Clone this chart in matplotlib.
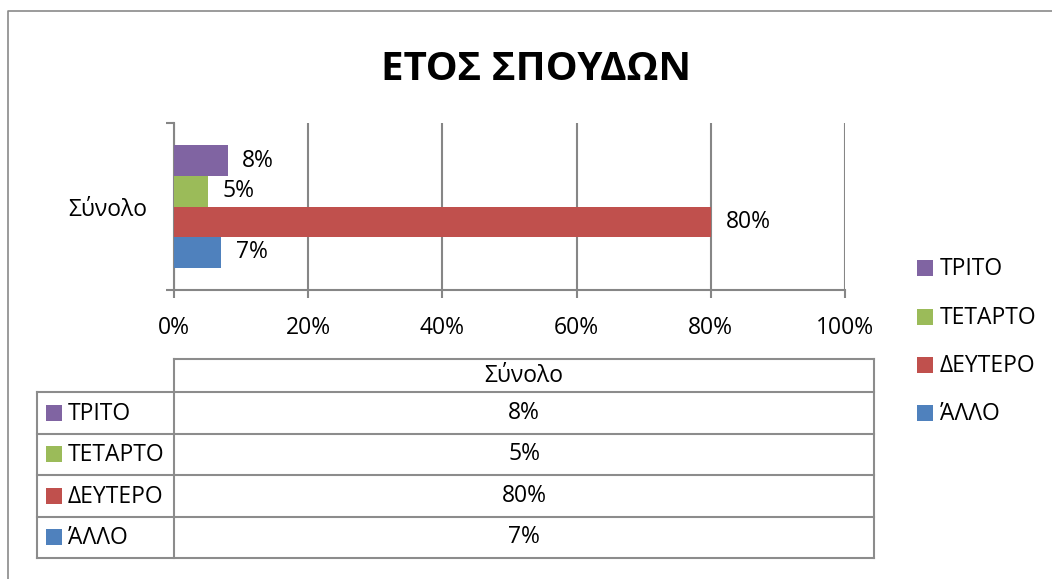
import matplotlib
matplotlib.use("Agg")
import matplotlib.pyplot as plt
from matplotlib.patches import Rectangle

plt.rcParams['font.family'] = ['Open Sans', 'DejaVu Sans']

title = "ΕΤΟΣ ΣΠΟΥΔΩΝ"
category = "Σύνολο"
series_names = ["ΆΛΛΟ", "ΔΕΥΤΕΡΟ", "ΤΕΤΑΡΤΟ", "ΤΡΙΤΟ"]
series_values = [7, 80, 5, 8]
series_colors = ["#4F81BD", "#C0504D", "#9BBB59", "#8064A2"]
x_ticks = [0, 20, 40, 60, 80, 100]
x_tick_labels = ["0%", "20%", "40%", "60%", "80%", "100%"]

W, H = 1052, 579
GRAY = "#868686"
FS = 16.5

fig = plt.figure(figsize=(W / 100, H / 100), dpi=100)


def fx(px):
    return px / W


def fy(py):
    return 1 - py / H


# overlay for frame, table and legend (pixel coordinates)
ov = fig.add_axes([0, 0, 1, 1])
ov.set_xlim(0, W)
ov.set_ylim(H, 0)
ov.axis("off")

# chart frame
ov.plot([8, 8, W + 5], [H + 5, 11, 11], color="#8a8a8a", lw=1.2, solid_capstyle="butt")

# main bar axes
ax = fig.add_axes([fx(174), fy(290), fx(845) - fx(174), fy(123) - fy(290)])
n = len(series_values)
bar_h = 0.1833
for i, (name, val, col) in enumerate(zip(series_names, series_values, series_colors)):
    off = (i - (n - 1) / 2) * bar_h
    ax.barh(off, val, height=bar_h, color=col, zorder=3)
    ax.annotate(f"{val}%", xy=(val, off), xytext=(10.5, 0), textcoords="offset points",
                ha="left", va="center", fontsize=FS, color="black")

ax.set_xlim(0, 100)
ax.set_ylim(-0.5, 0.5)
ax.set_xticks(x_ticks)
ax.set_xticklabels(x_tick_labels, fontsize=FS)
ax.set_yticks([-0.5, 0.5])
ax.set_yticklabels([])
ax.set_yticks([0], minor=True)
ax.set_yticklabels([category], minor=True, fontsize=FS)
ax.tick_params(axis="y", which="minor", length=0, pad=19)
ax.tick_params(axis="y", which="major", length=5.5, width=1.5, color=GRAY)
ax.tick_params(axis="x", length=5.5, width=1.5, color=GRAY, pad=13.5)
for s in ["top", "right"]:
    ax.spines[s].set_visible(False)
for s in ["left", "bottom"]:
    ax.spines[s].set_color(GRAY)
    ax.spines[s].set_linewidth(1.5)
ax.grid(axis="x", color=GRAY, lw=1.5, zorder=0)
ax.set_axisbelow(True)
ax.patch.set_alpha(0)

# title
fig.text(fx(536.5), fy(80), title, ha="center", va="baseline", fontsize=29, fontweight="bold")

# data table
TC = "#8c8c8c"
tlw = 1.5
x_left, x_mid, x_right = 37, 174, 874
y_head_top, y_head_bot = 359, 392
row_h = 41.5
legend_order = list(range(n))[::-1]
rows_bottom = y_head_bot + row_h * n
ov.plot([x_mid, x_right], [y_head_top, y_head_top], color=TC, lw=tlw)
ov.plot([x_mid, x_mid], [y_head_top, rows_bottom], color=TC, lw=tlw)
ov.plot([x_right, x_right], [y_head_top, rows_bottom], color=TC, lw=tlw)
ov.plot([x_left, x_left], [y_head_bot, rows_bottom], color=TC, lw=tlw)
ov.text((x_mid + x_right) / 2, (y_head_top + y_head_bot) / 2 + 1, category,
        ha="center", va="center", fontsize=FS)
for r in range(n + 1):
    yy = y_head_bot + r * row_h
    ov.plot([x_left, x_right], [yy, yy], color=TC, lw=tlw)
for r, idx in enumerate(legend_order):
    yc = y_head_bot + (r + 0.5) * row_h
    ov.add_patch(Rectangle((46, yc - 8), 16, 16, color=series_colors[idx], lw=0))
    ov.text(68, yc + 1, series_names[idx], ha="left", va="center", fontsize=FS)
    ov.text((x_mid + x_right) / 2, yc, f"{series_values[idx]}%", ha="center", va="center", fontsize=FS)

# legend on the right
leg_y = [268, 316.5, 365, 413]
for r, idx in enumerate(legend_order):
    yc = leg_y[r]
    ov.add_patch(Rectangle((917, yc - 8), 16, 16, color=series_colors[idx], lw=0))
    ov.text(940, yc + 1, series_names[idx], ha="left", va="center", fontsize=FS)

fig.savefig("out.png", dpi=100, facecolor="white")
